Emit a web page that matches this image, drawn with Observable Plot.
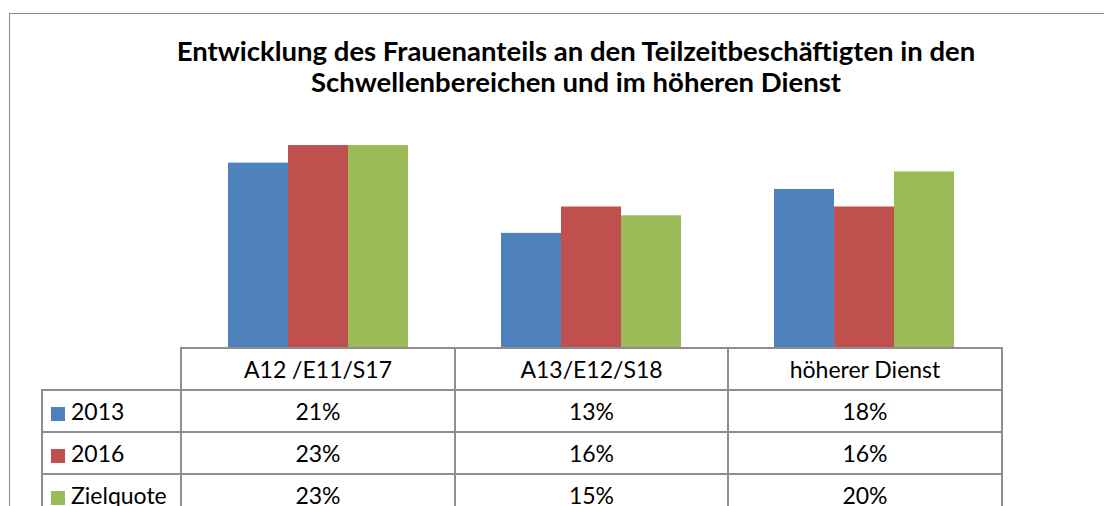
<!DOCTYPE html>
<html>
<head>
<meta charset="utf-8">
<script src="https://cdn.jsdelivr.net/npm/d3@7"></script>
<script src="https://cdn.jsdelivr.net/npm/@observablehq/plot@0.6"></script>
<style>
  html, body { margin: 0; padding: 0; background: #fff; }
  #wrap { position: relative; width: 1104px; height: 506px; overflow: hidden; background: #fff; font-family: Lato, "Open Sans", sans-serif; }
  #chart { position: absolute; left: 0; top: 0; }
  #frame { position: absolute; left: 9px; top: 13px; width: 1200px; height: 600px; border: 1.5px solid #8b8b8b; box-sizing: border-box; pointer-events: none; }
  #title { position: absolute; left: 0; width: 1152px; text-align: center; font-weight: bold; color: #000; line-height: 31px; }
  #tbl { position: absolute; left: 41px; top: 347px; border-collapse: collapse; table-layout: fixed; font-size: 23px; color: #000; }
  #tbl td { border: 2px solid #8e8e8e; padding: 0; height: 40px; text-align: center; vertical-align: middle; white-space: nowrap; }
  #tbl td.blank { border-top: none; border-left: none; }
  #tbl td.leg { text-align: left; padding-left: 8px; }
  .sw { display: inline-block; width: 14px; height: 14px; margin-right: 6px; vertical-align: -1px; }
</style>
</head>
<body>
<div id="wrap">
  <div id="chart"></div>
  <div id="frame"></div>
  <div id="title"></div>
  <table id="tbl"></table>
</div>
<script>
// ---- data ----
const titleLines = ["Entwicklung des Frauenanteils an den Teilzeitbeschäftigten in den", "Schwellenbereichen und im höheren Dienst"];
const categories = ["A12 /E11/S17", "A13/E12/S18", "höherer Dienst"];
const series = ["2013", "2016", "Zielquote"];
const values2013 = [0.21, 0.13, 0.18];
const values2016 = [0.23, 0.16, 0.16];
const valuesZiel = [0.23, 0.15, 0.20];
const colors = ["#4f81bd", "#c0504d", "#9bbb59"];

const seriesValues = [values2013, values2016, valuesZiel];
const data = categories.flatMap((c, i) => series.map((s, j) => ({category: c, series: s, value: seriesValues[j][i]})));

const chart = Plot.plot({
  width: 1104,
  height: 506,
  marginLeft: 180,
  marginRight: 103,
  marginTop: 127.5,
  marginBottom: 159,
  style: {background: "transparent"},
  fx: {domain: categories, padding: 0, axis: null},
  x: {domain: series, paddingInner: 0, paddingOuter: 0.755, axis: null},
  y: {domain: [0, 0.25], axis: null},
  color: {domain: series, range: colors},
  marks: [
    Plot.barY(data, {fx: "category", x: "series", y: "value", fill: "series", inset: 0})
  ]
});
document.getElementById("chart").appendChild(chart);

// ---- title (fit line 1 to ~800px) ----
const title = document.getElementById("title");
const ctx = document.createElement("canvas").getContext("2d");
ctx.font = "bold 100px Lato";
const w100 = ctx.measureText(titleLines[0]).width;
const fs = Math.min(30, 100 * 800 / w100);
title.style.fontSize = fs + "px";
const asc = 0.987 * fs, content = 1.2 * fs;
title.style.top = (60.7 - ((31 - content) / 2 + asc)) + "px";
title.innerHTML = titleLines.join("<br>");

// ---- data table ----
const fmt = d3.format(".0%");
const tbl = document.getElementById("tbl");
const colW = [139, 274, 273, 274];
tbl.innerHTML =
  "<colgroup>" + colW.map(w => `<col style="width:${w}px">`).join("") + "</colgroup>" +
  `<tr><td class="blank"></td>${categories.map(c => `<td>${c}</td>`).join("")}</tr>` +
  series.map((s, j) => `<tr><td class="leg"><span class="sw" style="background:${colors[j]}"></span>${s}</td>${seriesValues[j].map(v => `<td>${fmt(v)}</td>`).join("")}</tr>`).join("");
</script>
</body>
</html>
